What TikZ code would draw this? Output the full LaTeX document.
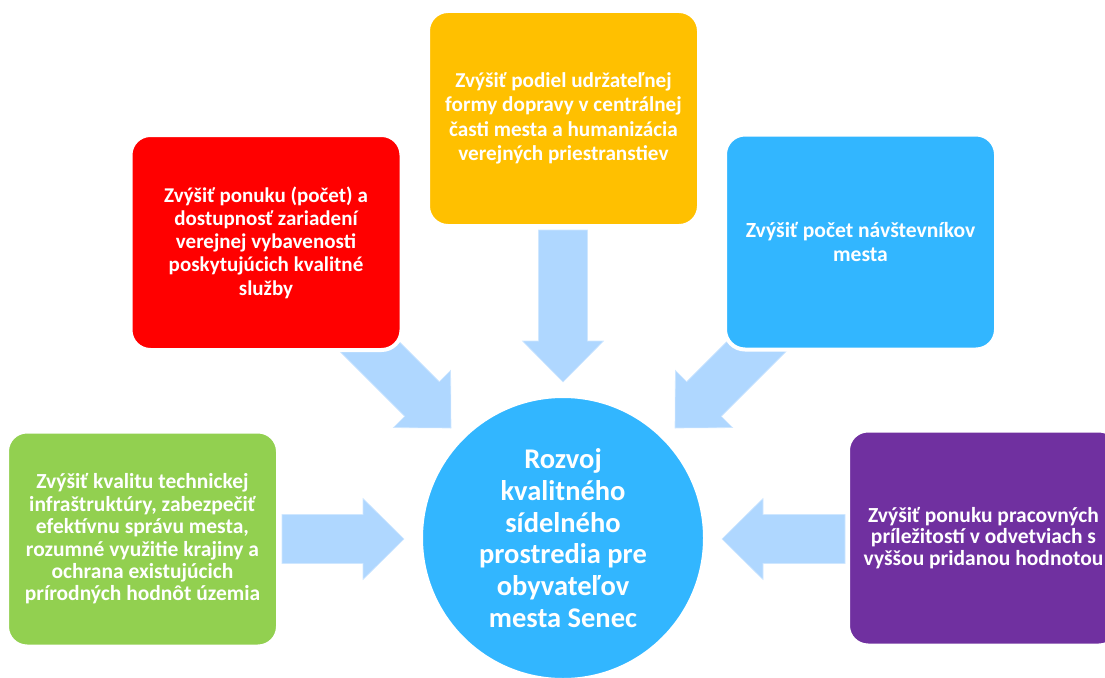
\documentclass[tikz,border=0pt]{standalone}
\usepackage{fontspec}
\setmainfont{Carlito}
\usetikzlibrary{calc}
\definecolor{cyellow}{HTML}{FFC000}
\definecolor{cred}{HTML}{FF0000}
\definecolor{cblue}{RGB}{50,182,255}
\definecolor{cgreen}{HTML}{92D050}
\definecolor{cpurple}{HTML}{7030A0}
\definecolor{carrow}{RGB}{175,215,255}
\tikzset{
  goalbox/.style={rounded corners=20pt, draw=white, line width=4pt,
    minimum width=271pt, minimum height=215pt, align=center, text=white,
    inner sep=0pt},
  goalfont/.style 2 args={font=\fontsize{#1}{#2}\selectfont\bfseries},
  hub/.style={circle, fill=cblue, draw=white, line width=3pt,
    minimum size=283pt, inner sep=0pt, align=center, text=white,
    font=\fontsize{28.5}{31.8}\selectfont\bfseries},
  blockarrow/.style={fill=carrow, draw=white!40!carrow, line width=0.6pt}
}
\newcommand\blockarrowdraw[3]{% #1 tail, #2 tip, #3 name
  \coordinate (#3-h) at ($(#2)!41pt!(#1)$);
  \path[blockarrow] ($(#1)!24.5pt!90:(#2)$) -- ($(#3-h)!24.5pt!90:(#2)$)
    -- ($(#3-h)!40.5pt!90:(#2)$) -- (#2) -- ($(#3-h)!40.5pt!-90:(#2)$)
    -- ($(#3-h)!24.5pt!-90:(#2)$) -- ($(#1)!24.5pt!-90:(#2)$) -- cycle;
}
\begin{document}
\begin{tikzpicture}[x=1pt,y=-1pt]
\useasboundingbox (0,0) rectangle (1105,677);
\clip (0,0) rectangle (1105,677);
% arrow end points
\coordinate (aT-t) at (563,230);   \coordinate (aT-p) at (563,382);
\coordinate (aL-t) at (343.5,320.5); \coordinate (aL-p) at (451,428);
\coordinate (aR-t) at (782.5,320.5); \coordinate (aR-p) at (675,428);
\coordinate (aW-t) at (282,539);   \coordinate (aW-p) at (404,539);
\coordinate (aE-t) at (845,539);   \coordinate (aE-p) at (722,539);
\blockarrowdraw{aT-t}{aT-p}{aT}
\blockarrowdraw{aL-t}{aL-p}{aL}
\blockarrowdraw{aR-t}{aR-p}{aR}
\blockarrowdraw{aW-t}{aW-p}{aW}
\blockarrowdraw{aE-t}{aE-p}{aE}
% boxes
\node[goalbox, fill=cyellow, goalfont={21.2}{24.4}] (top) at (563.5,118.5)
  {Zvýšiť podiel udržateľnej\\formy dopravy v centrálnej\\časti mesta a humanizácia\\verejných priestranstiev};
\node[goalbox, fill=cred, goalfont={21}{23.3}] (nw) at (266,242.5)
  {Zvýšiť ponuku (počet) a\\dostupnosť zariadení\\verejnej vybavenosti\\poskytujúcich kvalitné\\služby};
\node[goalbox, fill=cblue, goalfont={21.6}{23.3}] (ne) at (860.5,242)
  {Zvýšiť počet návštevníkov\\mesta};
\node[goalbox, fill=cgreen, goalfont={21.5}{22.4}] (w) at (142.5,539)
  {Zvýšiť kvalitu technickej\\infraštruktúry, zabezpečiť\\efektívnu správu mesta,\\rozumné využitie krajiny a\\ochrana existujúcich\\prírodných hodnôt územia};
\node[goalbox, fill=cpurple, goalfont={21.5}{21.8}] (e) at (983.5,538)
  {Zvýšiť ponuku pracovných\\príležitostí v odvetviach s\\vyššou pridanou hodnotou};
\node[hub] (hub) at (563,538)
  {Rozvoj\\kvalitného\\sídelného\\prostredia pre\\obyvateľov\\mesta Senec};
\end{tikzpicture}
\end{document}
